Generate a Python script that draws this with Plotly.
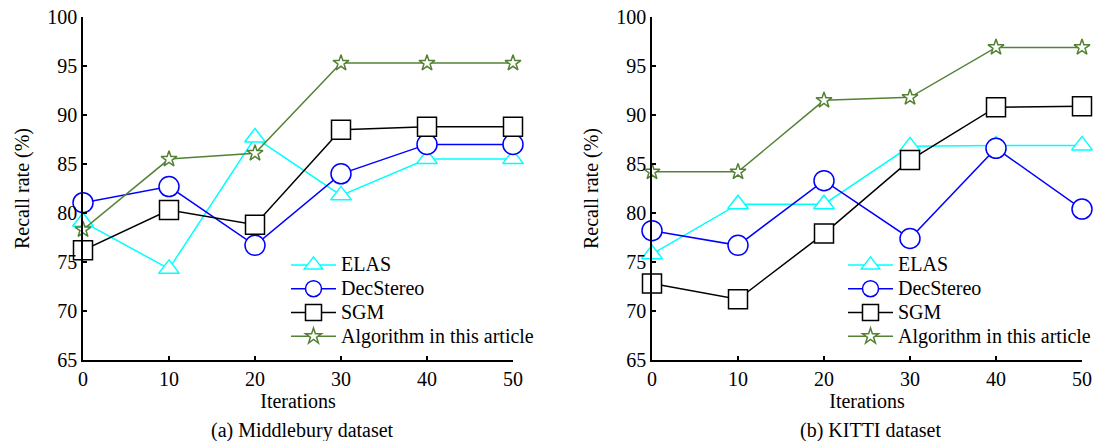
import plotly.graph_objects as go

iterations = [0, 10, 20, 30, 40, 50]
series_names = ["ELAS", "DecStereo", "SGM", "Algorithm in this article"]
y_ticks = [65, 70, 75, 80, 85, 90, 95, 100]

# (a) Middlebury dataset
mid_elas = [79.1, 74.3, 87.7, 81.8, 85.5, 85.5]
mid_dec = [81.05, 82.7, 76.7, 84.0, 87.0, 87.0]
mid_sgm = [76.2, 80.3, 78.8, 88.5, 88.8, 88.8]
mid_alg = [78.3, 85.5, 86.1, 95.3, 95.3, 95.3]

# (b) KITTI dataset
kitti_elas = [75.8, 80.9, 80.9, 86.8, 86.9, 86.9]
kitti_dec = [78.2, 76.7, 83.3, 77.4, 86.6, 80.4]
kitti_sgm = [72.8, 71.2, 77.9, 85.4, 90.8, 90.9]
kitti_alg = [84.2, 84.2, 91.5, 91.8, 96.9, 96.9]

colors = ["#00FFFF", "#0000FF", "#000000", "#548235"]
symbols = ["triangle-up", "circle", "square", "star"]
sizes = [18, 20, 19, 12]

FONT = "Liberation Serif, Times New Roman, serif"
FS = 20

fig = go.Figure()

panels = [
    ("x", "y", "legend", [mid_elas, mid_dec, mid_sgm, mid_alg]),
    ("x2", "y2", "legend2", [kitti_elas, kitti_dec, kitti_sgm, kitti_alg]),
]
for xa, ya, leg, data in panels:
    for name, vals, c, s, sz in zip(series_names, data, colors, symbols, sizes):
        fig.add_trace(go.Scatter(
            x=iterations, y=vals, mode="lines+markers",
            name='<span style="font-size:%dpx">%s</span>' % (FS, name),
            xaxis=xa, yaxis=ya, legend=leg, cliponaxis=False,
            line=dict(color=c, width=1.5),
            marker=dict(symbol=s, size=sz, color="white",
                        line=dict(color=c, width=1.5)),
        ))

H = 441
W = 1100
def py(p):
    return (H - p) / H
def px(p):
    return p / W

tfont = dict(family=FONT, size=FS, color="black")
axis_common = dict(
    showgrid=False, zeroline=False, showline=True, linecolor="black",
    linewidth=1.5, ticks="inside", ticklen=4, tickwidth=1.5, tickcolor="black",
    tickfont=tfont, automargin=False,
)
xcommon = dict(axis_common, range=[0, 50], tickvals=iterations,
               title=dict(text="Iterations", font=tfont, standoff=2))
ycommon = dict(axis_common, range=[65, 100], tickvals=y_ticks,
               title=dict(text="Recall rate (%)", font=tfont, standoff=12))

ydom = [py(360), py(17)]
legend_common = dict(yanchor="top", xanchor="left", bgcolor="rgba(0,0,0,0)",
                     font=dict(family=FONT, size=16, color="black"),
                     itemwidth=45, tracegroupgap=0, itemclick=False,
                     borderwidth=0)
fig.update_layout(
    width=W, height=H,
    margin=dict(l=0, r=0, t=0, b=0),
    paper_bgcolor="white", plot_bgcolor="white",
    font=dict(family=FONT, size=FS, color="black"),
    xaxis=dict(xcommon, domain=[px(83), px(513)], anchor="y"),
    yaxis=dict(ycommon, domain=ydom, anchor="x"),
    xaxis2=dict(xcommon, domain=[px(652), px(1082)], anchor="y2"),
    yaxis2=dict(ycommon, domain=ydom, anchor="x2"),
    legend=dict(legend_common, x=px(286), y=py(248)),
    legend2=dict(legend_common, x=px(843), y=py(248)),
    annotations=[
        dict(text="(a) Middlebury dataset", x=px(302), y=py(430), xref="paper", yref="paper",
             showarrow=False, font=tfont, xanchor="center", yanchor="middle"),
        dict(text="(b) KITTI dataset", x=px(870), y=py(430), xref="paper", yref="paper",
             showarrow=False, font=tfont, xanchor="center", yanchor="middle"),
    ],
)

fig.write_html("out.html")
